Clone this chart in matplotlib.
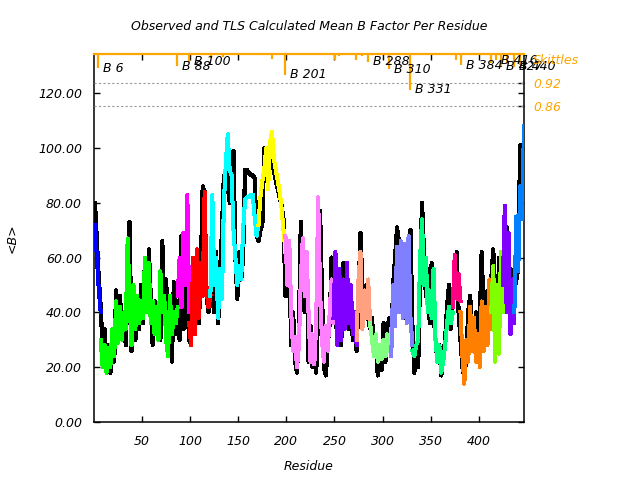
import matplotlib
matplotlib.use('Agg')
import matplotlib.pyplot as plt

plt.rcParams['font.family'] = ['DejaVu Sans']
plt.rcParams['font.style'] = 'italic'
plt.rcParams['font.size'] = 9

# observed mean B per residue (every second residue, 1..447)
obs_res = list(range(1, 448, 2))
obs_b = [80, 66, 52, 42, 26, 34, 20, 28, 18, 27, 22, 48, 30, 46, 34, 40, 28, 50, 73, 26,
         48, 30, 44, 34, 50, 36, 60, 40, 63, 45, 28, 44, 32, 42, 30, 66, 38, 52, 30, 40,
         22, 51, 32, 44, 30,
         68, 34, 56, 42, 30,
         28, 60, 32, 58, 36, 55, 86, 84, 46, 40, 44,
         55, 40, 62, 36, 50, 70, 90, 84, 96, 80, 88, 99, 60, 45, 62, 52, 60, 92, 92, 91,
         90, 90, 89, 68, 66, 70, 72, 100, 99, 97, 95, 94, 92, 88, 85, 82, 79, 74, 46,
         46, 60, 28, 40, 22, 18, 34, 73, 52, 40, 60, 22, 35, 20, 30, 18, 40, 77, 47, 20,
         17, 28, 36, 60, 48,
         40, 30, 52, 28, 58, 40, 50, 34, 46, 30, 40, 26,
         46, 69, 50, 40, 50, 38, 34,
         38, 26, 30, 17, 25, 19, 36, 22, 34, 38, 28,
         50, 60, 71, 66, 42, 60, 38, 55, 40, 70, 35,
         18, 28, 20, 55, 80, 62, 46, 56, 36, 58, 40, 30, 22, 28, 17, 24, 30, 42, 50, 34, 45,
         52, 62, 40, 30,
         20, 16, 24, 40, 46, 34, 28, 40, 24, 36, 62, 40, 30, 48, 36, 52,
         63, 48, 30, 60, 40, 55,
         50, 71, 40, 56, 36, 48,
         52, 56, 101, 86, 101]

# TLS calculated mean B, one list per chain segment (start residue, step 2)
seg_colors = ['#0000ff', '#00ff00', '#ff00ff', '#ff0000', '#00ffff', '#ffff00',
              '#ff80ff', '#8000ff', '#ffa080', '#80ff80', '#8080ff', '#00ff80',
              '#ff0080', '#ff8000', '#80ff00', '#8000ff', '#0080ff']
seg_start = [1, 7, 87, 99, 121, 171, 199, 249, 273, 287, 309, 331, 373, 381, 413, 425, 437]
seg_b = [
    [72, 60, 48, 40],
    [30, 20, 28, 18, 27, 20, 34, 24, 44, 29, 42, 30, 40, 34, 67, 44, 28, 50, 34, 46,
     36, 44, 38, 60, 40, 58, 36, 44, 32, 42, 30, 55, 40, 46, 30, 24, 46, 32, 40, 36, 42],
    [46, 60, 42, 69, 50, 83, 40],
    [36, 28, 60, 32, 63, 38, 58, 46, 84, 48, 42, 46],
    [46, 83, 50, 60, 38, 56, 45, 80, 94, 105, 92, 90, 70, 60, 50, 57, 52, 70, 81, 82,
     82, 83, 83, 75, 68, 72],
    [72, 82, 88, 92, 100, 85, 102, 106, 96, 92, 88, 84, 78, 70, 62],
    [68, 50, 66, 40, 26, 31, 20, 28, 52, 67, 46, 62, 40, 22, 32, 21, 36, 82, 48, 30,
     22, 35, 26, 40, 52, 36],
    [38, 62, 28, 56, 30, 52, 34, 58, 36, 50, 32, 40, 28],
    [30, 52, 62, 34, 48, 38, 52, 36],
    [36, 30, 24, 32, 22, 28, 23, 30, 24, 32, 26, 34],
    [24, 50, 35, 64, 40, 66, 38, 65, 36, 68, 38, 28],
    [26, 24, 28, 30, 60, 74, 50, 60, 40, 48, 38, 56, 30, 22, 28, 18, 22, 28, 36, 42, 36, 40],
    [42, 61, 45, 54, 44],
    [40, 24, 14, 30, 22, 42, 26, 38, 22, 32, 20, 44, 26, 42, 28, 52, 34],
    [40, 57, 22, 50, 25, 62, 40],
    [50, 79, 40, 69, 32, 52, 36],
    [40, 75, 55, 86, 74, 108],
]

# skittles bars hanging from the top
bar_res = [4.5, 86, 99, 121.5, 134.5, 157, 171, 185, 198.5, 250.5, 254.5, 272, 279, 285,
           306.5, 328, 376, 381, 412.4, 418.3, 423.5, 429, 436.6, 442.5]
bar_val = [0.959, 0.964, 0.976, 0.985, 0.989, 0.993, 0.993, 0.982, 0.941, 0.98, 0.99,
           0.98, 0.99, 0.976, 0.956, 0.902, 0.98, 0.967, 0.973, 0.98, 0.963, 0.971,
           0.963, 0.967]
lab_res = [4.5, 86, 99, 198.5, 285, 306.5, 328, 381, 418.3, 423.5, 436.6]
lab_val = [0.959, 0.964, 0.976, 0.941, 0.976, 0.956, 0.902, 0.967, 0.98, 0.963, 0.963]
lab_txt = ['B 6', 'B 88', 'B 100', 'B 201', 'B 288', 'B 310', 'B 331', 'B 384',
           'B 416', 'B 427', 'B 440']

orange = '#ffa500'

fig = plt.figure(figsize=(6.4, 4.8), dpi=100)
ax = fig.add_axes([94 / 640, 58 / 480, 430 / 640, 368 / 480])

assert len(obs_res) == len(obs_b)
ax.plot(obs_res, obs_b, color='black', lw=2.3, zorder=2, antialiased=False)
for col, st, vals in zip(seg_colors, seg_start, seg_b):
    xs = list(range(st, st + 2 * len(vals), 2))
    ax.plot(xs, vals, color=col, lw=2.2, zorder=3, antialiased=False)

ax.set_xlim(0, 447)
ax.set_ylim(0, 134.3)
ax.set_xticks([50, 100, 150, 200, 250, 300, 350, 400])
ax.set_yticks([0, 20, 40, 60, 80, 100, 120])
ax.set_yticklabels(['%.2f' % v for v in [0, 20, 40, 60, 80, 100, 120]])
for s in ax.spines.values():
    s.set_linewidth(1.1)

ax2 = ax.twinx()
ax2.set_ylim(0.0357, 0.9957)
ax2.set_yticks([0.92, 0.86])
ax2.set_yticklabels(['0.92', '0.86'], color=orange)
ax2.tick_params(direction='in', length=4.5, width=1, pad=6.5)
ax2.axhline(0.92, color='#999999', lw=0.8, ls=(0, (2, 2)))
ax2.axhline(0.86, color='#999999', lw=0.8, ls=(0, (2, 2)))
ax2.vlines(bar_res, bar_val, 0.9957, color=orange, lw=1.6)
ax2.axhline(0.9957, color=orange, lw=1.6, clip_on=False)
for r, v, t in zip(lab_res, lab_val, lab_txt):
    ax2.text(r + 5.2, v, t, va='center', ha='left', fontsize=9)
for s in ax2.spines.values():
    s.set_visible(False)

ax.tick_params(direction='in', length=4.5, width=1, top=True, right=True,
               labelright=False)
ax.tick_params(axis='y', pad=8.6)
ax.tick_params(axis='x', pad=9.4)

fig.text(309 / 640, 1 - 27 / 480, 'Observed and TLS Calculated Mean B Factor Per Residue',
         ha='center', va='center')
fig.text(12 / 640, 1 - 238 / 480, '<B>', rotation=90, ha='center', va='center')
fig.text(309 / 640, 1 - 466 / 480, 'Residue', ha='center', va='center')
fig.text(533 / 640, 1 - 61 / 480, 'Skittles', color=orange, ha='left', va='center')

fig.savefig('out.png', dpi=100)
